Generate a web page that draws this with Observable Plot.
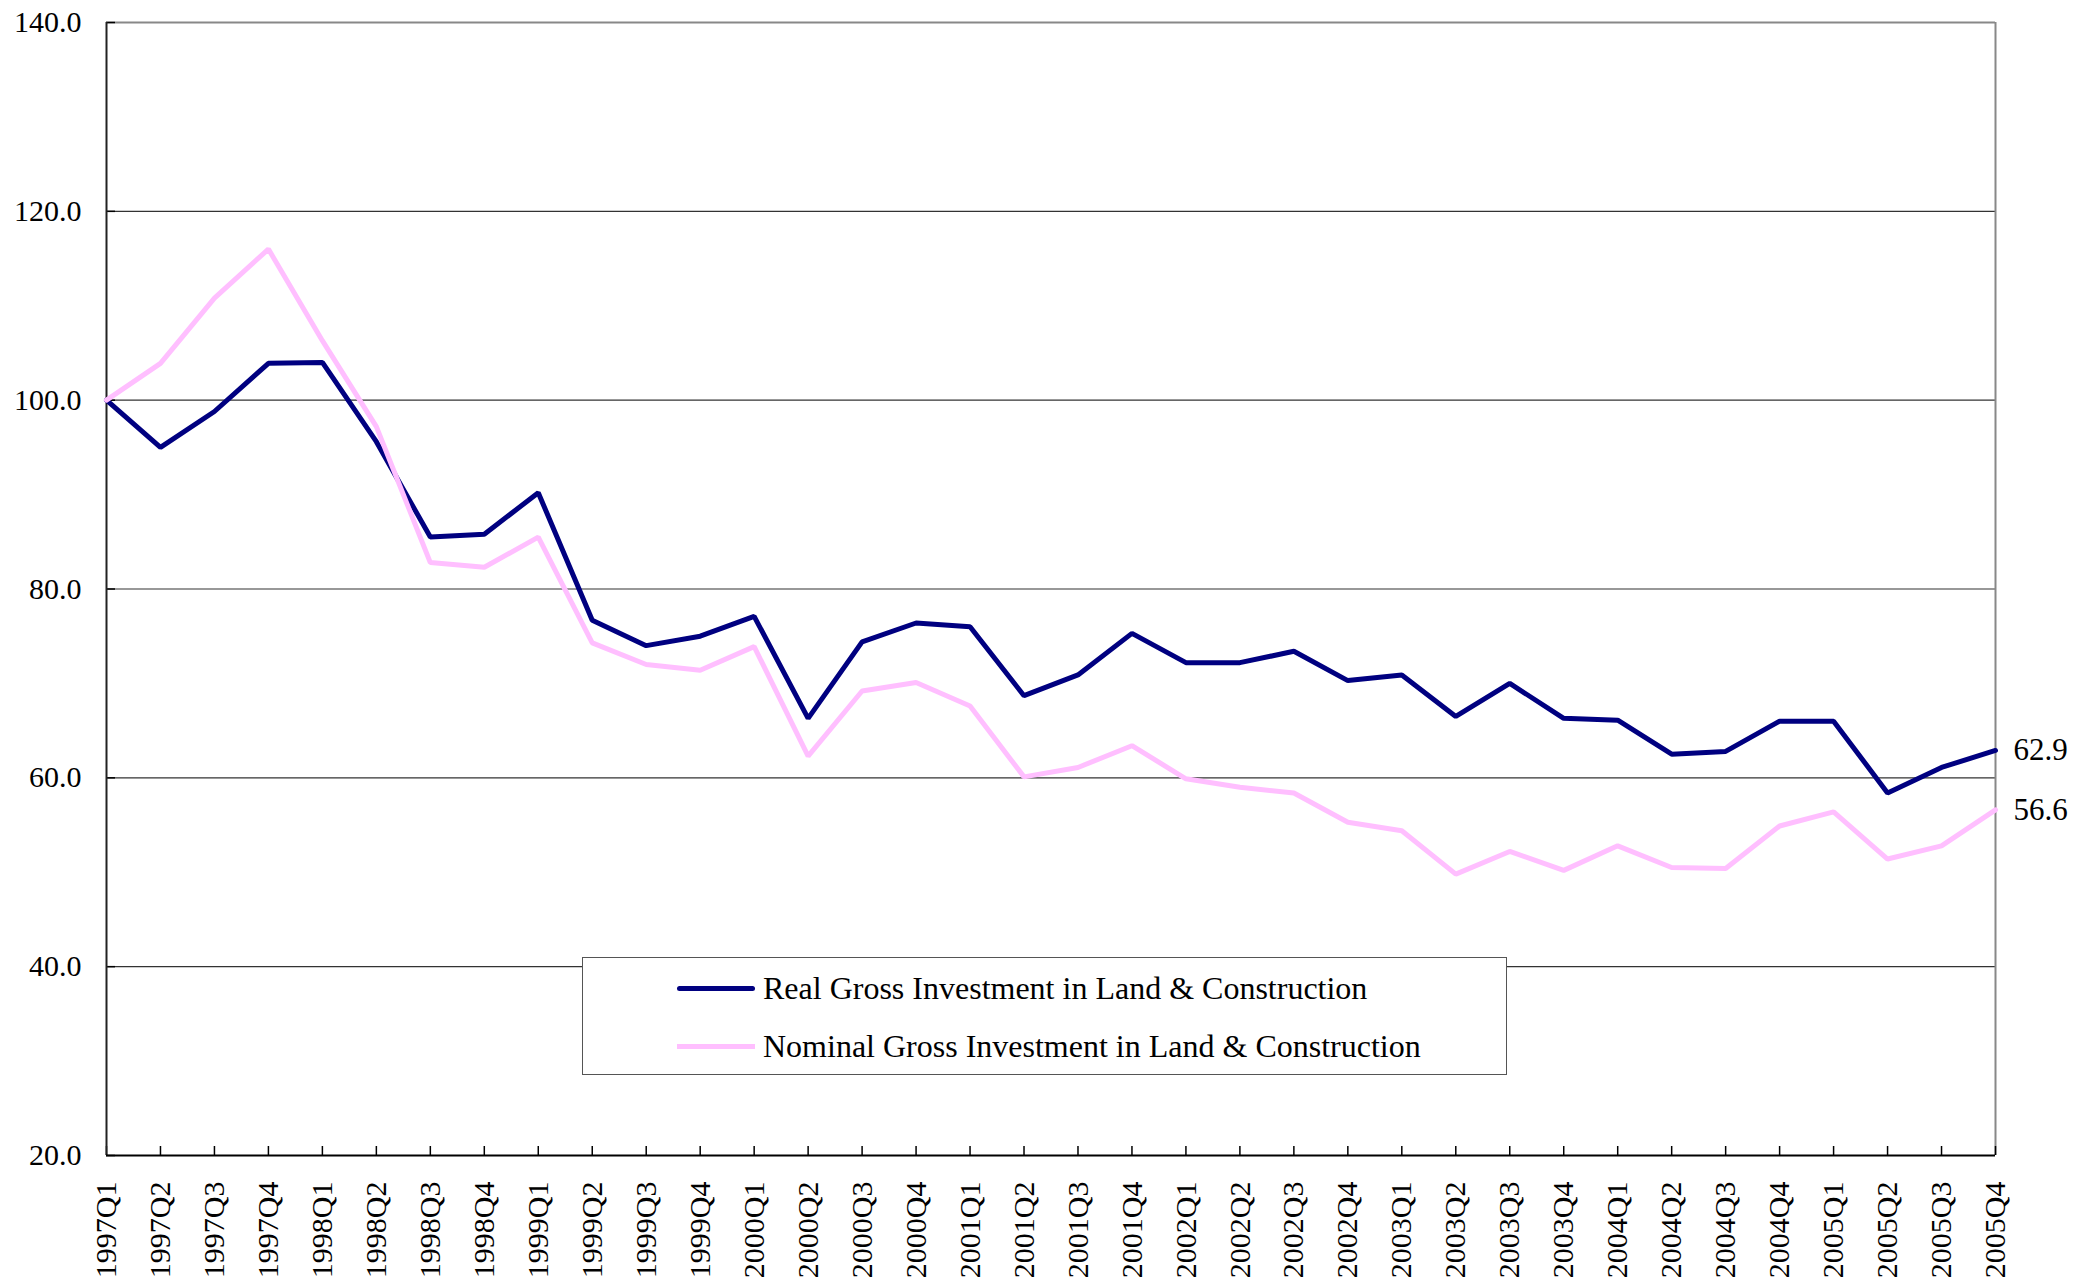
<!DOCTYPE html>
<html>
<head>
<meta charset="utf-8">
<script src="https://cdn.jsdelivr.net/npm/d3@7"></script>
<script src="https://cdn.jsdelivr.net/npm/@observablehq/plot@0.6"></script>
<style>
  html, body { margin: 0; padding: 0; background: #fff; }
  #wrap { position: relative; width: 2074px; height: 1283px; overflow: hidden; }
  #legend {
    position: absolute; left: 582px; top: 957px; width: 923px; height: 116px;
    border: 1.5px solid #555; background: #fff; box-sizing: content-box;
    font-family: "Liberation Serif", "Times New Roman", serif; font-size: 32px; color: #000;
  }
  .item { position: absolute; left: 94px; height: 40px; display: flex; align-items: center; white-space: nowrap; }
  .swatch { width: 78px; height: 5px; border-radius: 3px; margin-right: 8px; }
</style>
</head>
<body>
<div id="wrap">
  <div id="chart"></div>
  <div id="legend"></div>
</div>
<script>
const quarters = [
  "1997Q1","1997Q2","1997Q3","1997Q4","1998Q1","1998Q2","1998Q3","1998Q4",
  "1999Q1","1999Q2","1999Q3","1999Q4","2000Q1","2000Q2","2000Q3","2000Q4",
  "2001Q1","2001Q2","2001Q3","2001Q4","2002Q1","2002Q2","2002Q3","2002Q4",
  "2003Q1","2003Q2","2003Q3","2003Q4","2004Q1","2004Q2","2004Q3","2004Q4",
  "2005Q1","2005Q2","2005Q3","2005Q4"
];
const realInvestment = [
  100.0, 95.0, 98.8, 103.9, 104.0, 95.6, 85.5, 85.8,
  90.2, 76.7, 74.0, 75.0, 77.1, 66.3, 74.4, 76.4,
  76.0, 68.7, 70.9, 75.3, 72.2, 72.2, 73.4, 70.3,
  70.9, 66.5, 70.0, 66.3, 66.1, 62.5, 62.8, 66.0,
  66.0, 58.4, 61.1, 62.9
];
const nominalInvestment = [
  100.0, 103.9, 110.8, 116.0, 106.3, 97.2, 82.8, 82.3,
  85.5, 74.3, 72.0, 71.4, 73.9, 62.3, 69.2, 70.1,
  67.6, 60.1, 61.1, 63.4, 59.9, 59.0, 58.4, 55.3,
  54.4, 49.8, 52.2, 50.2, 52.8, 50.5, 50.4, 54.9,
  56.4, 51.4, 52.8, 56.6
];
const seriesNames = [
  "Real Gross Investment in Land & Construction",
  "Nominal Gross Investment in Land & Construction"
];
const seriesColors = ["#000080", "#ffbfff"];
const yTicks = [20, 40, 60, 80, 100, 120, 140];
const gridValues = [40, 60, 80, 100, 120];

const realRows = quarters.map((q, i) => ({q, v: realInvestment[i]}));
const nominalRows = quarters.map((q, i) => ({q, v: nominalInvestment[i]}));
const lastRows = [realRows[realRows.length - 1], nominalRows[nominalRows.length - 1]];
const fmt = d3.format(".1f");

const chart = Plot.plot({
  width: 2074,
  height: 1283,
  marginLeft: 106,
  marginRight: 79,
  marginTop: 22,
  marginBottom: 128,
  style: {fontFamily: "'Liberation Serif', 'Times New Roman', serif", fontSize: "30px", color: "#000", background: "#fff"},
  x: {type: "point", domain: quarters, padding: 0},
  y: {domain: [20, 140]},
  marks: [
    Plot.ruleY(gridValues, {stroke: "#333", strokeWidth: 1.2}),
    Plot.ruleY([140], {stroke: "#888", strokeWidth: 2}),
    Plot.ruleX([quarters[quarters.length - 1]], {stroke: "#888", strokeWidth: 2}),
    Plot.axisY({ticks: yTicks, tickSize: 0, tickPadding: 25, tickFormat: fmt, label: null, fontSize: 30}),
    Plot.axisY({ticks: yTicks, tickSize: 9, dx: 9, fill: "none", label: null, stroke: "#000", strokeWidth: 1.5}),
    Plot.axisX({tickSize: 9, dy: -9, fill: "none", label: null, stroke: "#000", strokeWidth: 1.5}),
    Plot.axisX({tickSize: 0, tickRotate: -90, tickPadding: 26, label: null, fontSize: 30}),
    Plot.ruleX([quarters[0]], {stroke: "#222", strokeWidth: 2}),
    Plot.ruleY([20], {stroke: "#000", strokeWidth: 2.2}),
    Plot.line(realRows, {x: "q", y: "v", stroke: seriesColors[0], strokeWidth: 5, strokeLinejoin: "miter"}),
    Plot.line(nominalRows, {x: "q", y: "v", stroke: seriesColors[1], strokeWidth: 5, strokeLinejoin: "miter"}),
    Plot.text(lastRows, {x: "q", y: "v", text: d => fmt(d.v), dx: 18, textAnchor: "start", fontSize: 31, fill: "#000"})
  ]
});
document.getElementById("chart").appendChild(chart);

const legend = document.getElementById("legend");
const itemTops = [10, 68];
seriesNames.forEach((name, i) => {
  const item = document.createElement("div");
  item.className = "item";
  item.style.top = itemTops[i] + "px";
  const sw = document.createElement("div");
  sw.className = "swatch";
  sw.style.background = seriesColors[i];
  if (i === 1) sw.style.borderRadius = "0";
  const label = document.createElement("span");
  label.textContent = name;
  item.appendChild(sw);
  item.appendChild(label);
  legend.appendChild(item);
});
</script>
</body>
</html>
